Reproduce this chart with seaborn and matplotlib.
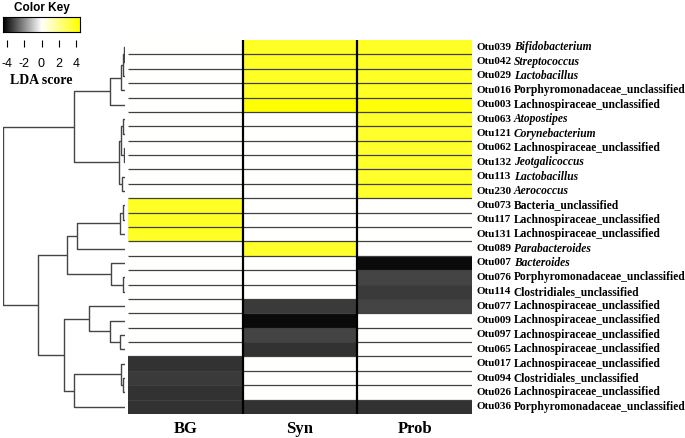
import numpy as np
import pandas as pd
import matplotlib
matplotlib.use("Agg")
import matplotlib.pyplot as plt
import matplotlib.transforms as mtransforms
from matplotlib.colors import LinearSegmentedColormap
import seaborn as sns

# OTU rows, top to bottom as in the figure
otu_ids = ["Otu039", "Otu042", "Otu029", "Otu016", "Otu003", "Otu063", "Otu121",
           "Otu062", "Otu132", "Otu113", "Otu230", "Otu073", "Otu117", "Otu131",
           "Otu089", "Otu007", "Otu076", "Otu114", "Otu077", "Otu009", "Otu097",
           "Otu065", "Otu017", "Otu094", "Otu026", "Otu036"]
taxa = ["Bifidobacterium", "Streptococcus", "Lactobacillus",
        "Porphyromonadaceae_unclassified", "Lachnospiraceae_unclassified",
        "Atopostipes", "Corynebacterium", "Lachnospiraceae_unclassified",
        "Jeotgalicoccus", "Lactobacillus", "Aerococcus", "Bacteria_unclassified",
        "Lachnospiraceae_unclassified", "Lachnospiraceae_unclassified",
        "Parabacteroides", "Bacteroides", "Porphyromonadaceae_unclassified",
        "Clostridiales_unclassified", "Lachnospiraceae_unclassified",
        "Lachnospiraceae_unclassified", "Lachnospiraceae_unclassified",
        "Lachnospiraceae_unclassified", "Lachnospiraceae_unclassified",
        "Clostridiales_unclassified", "Lachnospiraceae_unclassified",
        "Porphyromonadaceae_unclassified"]
groups = ["BG", "Syn", "Prob"]

# LDA scores per group (0 = not enriched)
bg = [0, 0, 0, 0, 0, 0, 0, 0, 0, 0, 0, 3.8, 3.8, 3.8, 0,
      0, 0, 0, 0, 0, 0, 0, -3.6, -3.45, -3.6, -3.6]
syn = [3.8, 3.8, 3.8, 3.8, 4.4, 0, 0, 0, 0, 0, 0, 0, 0, 0, 3.7,
       0, 0, 0, -3.45, -4.3, -3.3, -3.6, 0, 0, 0, -3.6]
prob = [3.8, 3.8, 3.8, 3.8, 4.3, 3.7, 3.7, 3.7, 3.7, 3.7, 3.7, 0, 0, 0, 0,
        -4.3, -3.3, -3.45, -3.3, 0, 0, 0, 0, 0, 0, -3.6]

# row dendrogram: (child a, child b, height); nodes >= 26 are earlier merges
merges = [(0, 1, 1), (26, 2, 2.5), (27, 3, 4.5), (28, 4, 15),
          (5, 6, 2), (7, 8, 1), (30, 31, 4), (9, 10, 3), (32, 33, 6),
          (29, 34, 51),
          (11, 12, 2), (36, 13, 5), (37, 14, 48),
          (16, 17, 2), (15, 39, 14), (38, 40, 58),
          (20, 21, 5), (19, 42, 15), (18, 43, 36),
          (23, 24, 2), (22, 45, 4.5), (46, 25, 51),
          (44, 47, 61), (41, 48, 87), (35, 49, 122)]

df = pd.DataFrame({"BG": bg, "Syn": syn, "Prob": prob}, index=otu_ids)
n = len(otu_ids)

W, H = 685, 438
fig = plt.figure(figsize=(W / 100, H / 100), dpi=100)


def box(x0, y0, x1, y1):
    # pixel box (top-left origin) -> figure fraction rect
    return [x0 / W, 1 - y1 / H, (x1 - x0) / W, (y1 - y0) / H]


cmap = LinearSegmentedColormap.from_list("bwy", ["black", "white", "yellow"])
serif = "Liberation Serif"
sans = "Liberation Sans"

# heatmap
ax = fig.add_axes(box(128, 40, 472, 414))
sns.heatmap(df, ax=ax, cmap=cmap, vmin=-4.5, vmax=4.5, cbar=False,
            xticklabels=True, yticklabels=False)
ax.hlines(np.arange(1, n), 0, 3, color="#404040", lw=0.9)
ax.vlines([1, 2], 0, n, color="black", lw=1.6)
ax.set_xticklabels(groups, rotation=0, fontfamily=serif, fontweight="bold",
                   fontsize=12)
ax.tick_params(axis="x", length=0, pad=5)
ax.set_ylabel("")

trans = mtransforms.blended_transform_factory(ax.transAxes, ax.transData)
for i, (oid, tx) in enumerate(zip(otu_ids, taxa)):
    ax.text(1.012, i + 0.5, oid, transform=trans, va="center", ha="left",
            fontfamily=serif, fontweight="bold", fontsize=8)
    style = "normal" if tx.endswith("unclassified") else "italic"
    ax.text(1.121, i + 0.5, tx, transform=trans, va="center", ha="left",
            fontfamily=serif, fontweight="bold", fontstyle=style, fontsize=8.3)

# dendrogram
dax = fig.add_axes(box(3, 40, 125, 414))
pos = {i: (i + 0.5, 0.0) for i in range(n)}
for k, (a, b, h) in enumerate(merges):
    ya, ha = pos[a]
    yb, hb = pos[b]
    dax.plot([ha, h, h, hb], [ya, ya, yb, yb], color="#454545", lw=1.0,
             solid_capstyle="butt")
    pos[n + k] = ((ya + yb) / 2, h)
dax.set_xlim(122, 0)
dax.set_ylim(n, 0)
dax.axis("off")

# colour key
kax = fig.add_axes(box(3, 17, 80, 32))
grad = np.linspace(-4.5, 4.5, 200)[None, :]
kax.imshow(grad, aspect="auto", cmap=cmap, vmin=-4.5, vmax=4.5,
           extent=[-4.5, 4.5, 0, 1])
kax.set_xticks([])
kax.set_yticks([])
for s in kax.spines.values():
    s.set_linewidth(0.8)
kax.set_title("Color Key", fontfamily=sans, fontweight="bold", fontsize=8.5,
              pad=4)

tax_ = fig.add_axes(box(3, 40, 80, 40.01))
tax_.set_xlim(-4.5, 4.5)
tax_.set_xticks([-4, -2, 0, 2, 4])
tax_.set_xticklabels(["-4", "-2", "0", "2", "4"], fontfamily=sans, fontsize=9)
tax_.set_yticks([])
for s in tax_.spines.values():
    s.set_visible(False)
tax_.tick_params(axis="x", length=5, width=0.8, pad=8)
tax_.set_xlabel("LDA score", fontfamily=serif, fontweight="bold", fontsize=10,
                labelpad=3)
tax_.patch.set_visible(False)

fig.savefig("out.png", dpi=100)
